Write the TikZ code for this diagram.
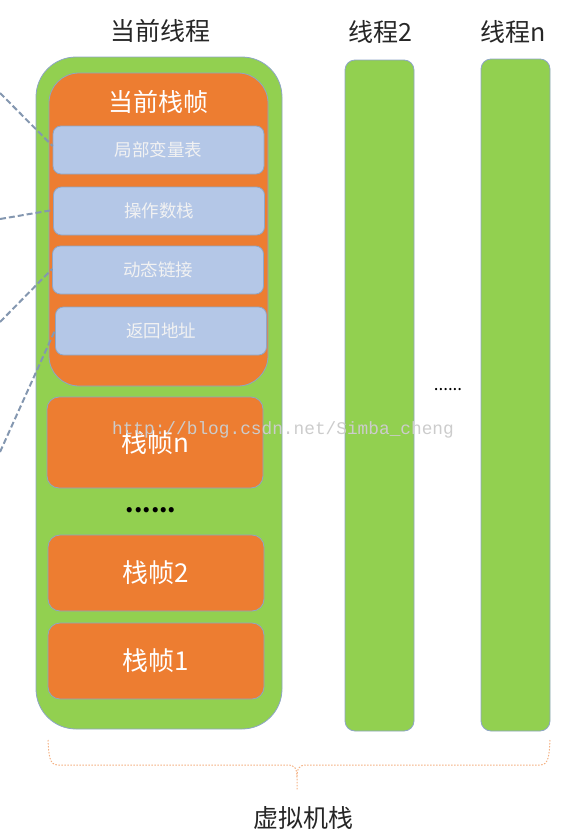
\documentclass[tikz,border=0pt]{standalone}
\usepackage{fontspec}
\setmainfont{Noto Sans CJK SC}
\newfontfamily\wmfont{Liberation Mono}
\definecolor{thrgreen}{HTML}{92D050}
\definecolor{frmorange}{HTML}{ED7D31}
\definecolor{slotblue}{HTML}{B4C7E7}
\definecolor{edgeblue}{HTML}{8EA5C6}
\definecolor{dashblue}{HTML}{8497B0}
\definecolor{braceorange}{HTML}{F4B183}
\definecolor{slottext}{HTML}{F2F2F2}
\begin{document}
\begin{tikzpicture}[x=1pt,y=-1pt,
  thread/.style={draw=edgeblue,line width=0.8pt,fill=thrgreen,inner sep=0pt},
  frame/.style={draw=edgeblue,line width=0.8pt,fill=frmorange,inner sep=0pt,rounded corners=12pt,
    minimum width=216pt,text=white,font=\fontsize{26}{30}\selectfont},
  slot/.style={draw=edgeblue,line width=0.8pt,fill=slotblue,inner sep=0pt,rounded corners=8pt,
    minimum width=211pt,minimum height=48pt,text=slottext,font=\fontsize{17.5}{20}\selectfont},
  title/.style={font=\fontsize{25}{30}\selectfont,text=black!85,inner sep=0pt},
  link/.style={dashblue,line width=2pt,dash pattern=on 6pt off 3pt},
  bracestyle/.style={braceorange,line width=1pt,dash pattern=on 1.5pt off 1.5pt}
]
\useasboundingbox (0,0) rectangle (565,838);

% titles
\node[title] (t1) at (160,31) {当前线程};
\node[title] (t2) at (380,32) {线程2};
\node[title] (tn) at (513,32) {线程n};

% threads
\node[thread,rounded corners=40pt,minimum width=246pt,minimum height=672pt] (cur) at (159,393) {};
\node[thread,rounded corners=10pt,minimum width=69pt,minimum height=671pt] (th2) at (379.5,395.5) {};
\node[thread,rounded corners=10pt,minimum width=69pt,minimum height=672pt] (thn) at (515.5,395) {};

% current frame
\node[draw=edgeblue,line width=0.8pt,fill=frmorange,inner sep=0pt,rounded corners=30pt,
  minimum width=219pt,minimum height=313pt] (cf) at (158.5,229.5) {};
\node[text=white,font=\fontsize{25}{30}\selectfont,inner sep=0pt] (cft) at (158,102) {当前栈帧};

\node[slot] (s1) at (158.5,150) {局部变量表};
\node[slot] (s2) at (159,211) {操作数栈};
\node[slot] (s3) at (158,270) {动态链接};
\node[slot] (s4) at (161,331) {返回地址};

% frames
\node[frame,minimum height=91pt] (fn) at (155,442.5) {栈帧n};
\node[frame,minimum height=76pt] (f2) at (156,573) {栈帧2};
\node[frame,minimum height=76pt] (f1) at (156,661) {栈帧1};

\node[font=\fontsize{24}{28}\selectfont\bfseries,inner sep=0pt] (d1) at (151,510) {......};
\node[font=\fontsize{17}{20}\selectfont,inner sep=0pt] (d2) at (448,390) {......};

% dashed links
\coordinate (e1) at (0,93);
\coordinate (e2) at (0,219);
\coordinate (e3) at (0,322);
\coordinate (e4) at (0,452);
\draw[link] (e1) -- (s1.west |- 0,146);
\draw[link] (e2) -- (s2.west |- 0,210);
\draw[link] (e3) -- (s3.west |- 0,269);
\draw[link] (e4) -- (s4.west |- 0,330);

% watermark
\node[font=\wmfont\fontsize{17.8}{20}\selectfont,text=black!20,inner sep=0pt] (wm) at (283,430) {http://blog.csdn.net/Simba\_cheng};

% brace
\coordinate (b1) at (48,740);
\coordinate (b2) at (550,740);
\coordinate (btip) at (297,790);
\draw[bracestyle]
  (b1) .. controls (49,755) and (49,765) .. (58,765) -- (287,765)
  .. controls (295,765) and (297,768) .. (297,778) -- (btip);
\draw[bracestyle]
  (b2) .. controls (549,755) and (549,765) .. (540,765) -- (307,765)
  .. controls (299,765) and (297,768) .. (297,778);

\node[title] (vm) at (303,818) {虚拟机栈};
\end{tikzpicture}
\end{document}
